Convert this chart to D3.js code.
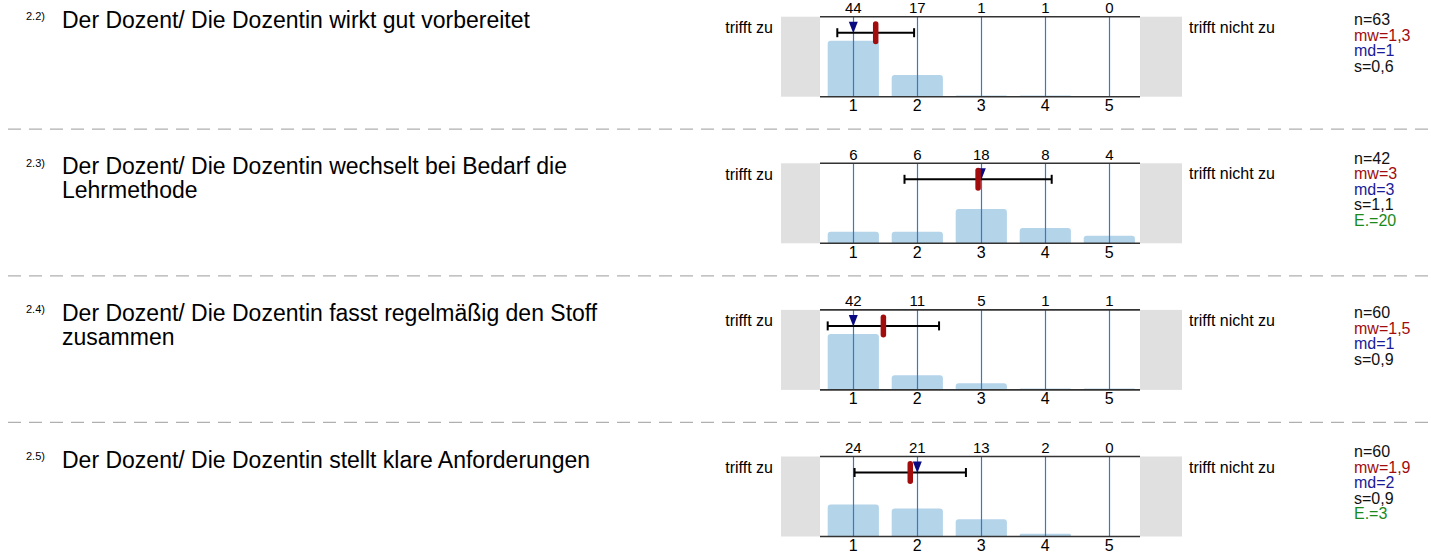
<!DOCTYPE html>
<html>
<head>
<meta charset="utf-8">
<script src="https://cdn.jsdelivr.net/npm/d3@7"></script>
<style>
  html, body { margin: 0; padding: 0; background: #ffffff; }
  svg { display: block; font-family: "Liberation Sans", Arial, Helvetica, sans-serif; }
</style>
</head>
<body>
<svg id="chart" width="1431" height="557"></svg>
<script>
// ---------------- data ----------------
const categories = [1, 2, 3, 4, 5];
const questionNumbers = ["2.2)", "2.3)", "2.4)", "2.5)"];
const questionLines = [
  ["Der Dozent/ Die Dozentin wirkt gut vorbereitet"],
  ["Der Dozent/ Die Dozentin wechselt bei Bedarf die", "Lehrmethode"],
  ["Der Dozent/ Die Dozentin fasst regelmäßig den Stoff", "zusammen"],
  ["Der Dozent/ Die Dozentin stellt klare Anforderungen"]
];
const counts = [
  [44, 17, 1, 1, 0],
  [6, 6, 18, 8, 4],
  [42, 11, 5, 1, 1],
  [24, 21, 13, 2, 0]
];
const nValues = [63, 42, 60, 60];
const meanValues = [1.35, 2.95, 1.47, 1.89];
const medianValues = [1, 3, 1, 2];
const sdValues = [0.6, 1.15, 0.87, 0.87];
const meanLabels = ["1,3", "3", "1,5", "1,9"];
const medianLabels = ["1", "3", "1", "2"];
const sdLabels = ["0,6", "1,1", "0,9", "0,9"];
const abstentionLabels = [null, "20", null, "3"];
const leftPole = "trifft zu";
const rightPole = "trifft nicht zu";

// ---------------- layout ----------------
const svg = d3.select("#chart");
const plotLeft = 820, plotRight = 1140, plotH = 80;
const rowTop0 = 16.7, rowStep = 146.6;
const barColor = "#b4d4ea", gridColor = "#3b78bd";
const meanColor = "#a30c0c", medianColor = "#0a0a80";
const fontBig = 23, fontSmall = 16;

const xBand = d3.scaleBand().domain(categories).range([plotLeft + 1.3, plotRight + 1.3]).paddingInner(0.2).paddingOuter(0.1);
const xVal = d3.scaleLinear().domain([0.5, 5.5]).range([plotLeft + 1.3, plotRight + 1.3]);

counts.forEach((row, i) => {
  const top = rowTop0 + i * rowStep;
  const bottom = top + plotH;
  const g = svg.append("g");
  const y = d3.scaleLinear().domain([0, 1]).range([bottom, top]);

  // question number + text
  g.append("text").attr("x", 26).attr("y", top + 3.5)
    .attr("font-size", 11).attr("fill", "#000").text(questionNumbers[i]);
  questionLines[i].forEach((ln, j) => {
    g.append("text").attr("x", 62).attr("y", top + 11 + j * 24)
      .attr("font-size", fontBig).attr("fill", "#000").text(ln);
  });

  // grey pole boxes
  g.append("rect").attr("x", 781).attr("y", top).attr("width", plotLeft - 781).attr("height", plotH).attr("fill", "#e0e0e0");
  g.append("rect").attr("x", plotRight).attr("y", top).attr("width", 1182 - plotRight).attr("height", plotH).attr("fill", "#e0e0e0");

  // pole labels
  g.append("text").attr("x", 773).attr("y", top + 16.5).attr("text-anchor", "end")
    .attr("font-size", fontSmall).attr("fill", "#000").text(leftPole);
  g.append("text").attr("x", 1189).attr("y", top + 16).attr("text-anchor", "start")
    .attr("font-size", fontSmall).attr("fill", "#000").text(rightPole);

  // bars
  const n = nValues[i];
  g.selectAll(".bar").data(row).enter().append("path")
    .attr("fill", barColor)
    .attr("d", (d, k) => {
      const x0 = xBand(categories[k]), w = xBand.bandwidth();
      const y0 = y(d / n), h = bottom - y0;
      const r = Math.min(3, h / 2, w / 2);
      if (h <= 0) return "";
      return `M${x0},${bottom} L${x0},${y0 + r} Q${x0},${y0} ${x0 + r},${y0} L${x0 + w - r},${y0} Q${x0 + w},${y0} ${x0 + w},${y0 + r} L${x0 + w},${bottom} Z`;
    });

  // vertical grid lines
  g.selectAll(".grid").data(categories).enter().append("line")
    .attr("x1", d => Math.round(xBand(d) + xBand.bandwidth() / 2) + 0.5)
    .attr("x2", d => Math.round(xBand(d) + xBand.bandwidth() / 2) + 0.5)
    .attr("y1", top).attr("y2", bottom)
    .attr("stroke", gridColor).attr("stroke-width", 1.2);

  // top and bottom rules
  [top, bottom].forEach(yy => {
    g.append("line").attr("x1", plotLeft).attr("x2", plotRight).attr("y1", yy).attr("y2", yy)
      .attr("stroke", "#333").attr("stroke-width", 1.6);
  });

  // count labels on top
  g.selectAll(".cnt").data(row).enter().append("text")
    .attr("x", (d, k) => xBand(categories[k]) + xBand.bandwidth() / 2)
    .attr("y", top - 3.8).attr("text-anchor", "middle")
    .attr("font-size", 15).attr("fill", "#000").text(d => d);

  // axis labels below
  const axis = d3.axisBottom(xBand).tickSize(0).tickPadding(3);
  const ax = g.append("g").attr("transform", `translate(0,${bottom})`).call(axis);
  ax.select(".domain").remove();
  ax.selectAll("text").attr("font-size", fontSmall).attr("fill", "#000").attr("font-family", null);

  // error bar (mean ± sd)
  const ey = top + 16;
  const m = meanValues[i], s = sdValues[i];
  g.append("line").attr("x1", xVal(m - s)).attr("x2", xVal(m + s)).attr("y1", ey).attr("y2", ey)
    .attr("stroke", "#000").attr("stroke-width", 2);
  [m - s, m + s].forEach(v => {
    g.append("line").attr("x1", xVal(v)).attr("x2", xVal(v)).attr("y1", ey - 4.5).attr("y2", ey + 4.5)
      .attr("stroke", "#000").attr("stroke-width", 2);
  });

  // median triangle
  const mx = xVal(medianValues[i]);
  g.append("path").attr("d", `M${mx - 4.5},${top + 5} L${mx + 4.5},${top + 5} L${mx},${ey + 0.5} Z`).attr("fill", medianColor);

  // mean marker
  g.append("rect").attr("x", xVal(m) - 2.75).attr("y", ey - 11.5).attr("width", 5.5).attr("height", 23)
    .attr("rx", 2.75).attr("ry", 2.75).attr("fill", meanColor);

  // stats block
  const stats = [
    { t: "n=" + n, c: "#111" },
    { t: "mw=" + meanLabels[i], c: meanColor },
    { t: "md=" + medianLabels[i], c: "#1a1a9a" },
    { t: "s=" + sdLabels[i], c: "#111" }
  ];
  if (abstentionLabels[i] !== null) stats.push({ t: "E.=" + abstentionLabels[i], c: "#1a8a1a" });
  const lh = 15.5;
  const firstBase = top + 26 - (stats.length - 1) * lh / 2 + 5.6;
  stats.forEach((st, k) => {
    g.append("text").attr("x", 1354).attr("y", firstBase + k * lh)
      .attr("font-size", fontSmall).attr("fill", st.c).text(st.t);
  });

  // dashed separator
  if (i < counts.length - 1) {
    g.append("line").attr("x1", 8).attr("x2", 1431).attr("y1", top + 112.5).attr("y2", top + 112.5)
      .attr("stroke", "#b0b0b0").attr("stroke-width", 1.3).attr("stroke-dasharray", "13,8");
  }
});
</script>
</body>
</html>
